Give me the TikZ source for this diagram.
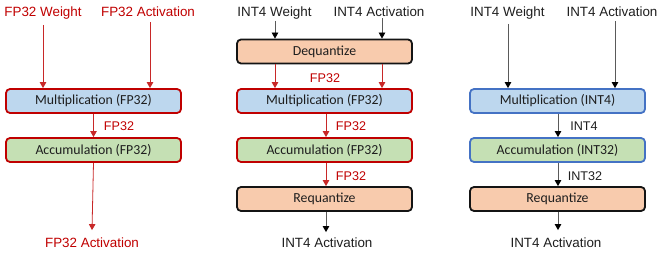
\documentclass[tikz,border=0pt]{standalone}
\usepackage{fontspec}
\setmainfont{Liberation Sans}
\newfontfamily\boxfont{Carlito}
\usetikzlibrary{arrows.meta}
\definecolor{myred}{RGB}{192,0,0}
\definecolor{arrred}{RGB}{200,40,40}
\definecolor{boxblue}{RGB}{189,215,238}
\definecolor{boxgreen}{RGB}{197,224,180}
\definecolor{boxorange}{RGB}{248,203,173}
\definecolor{edgeblue}{RGB}{68,114,196}
\definecolor{edgedark}{RGB}{20,20,20}
\definecolor{arrgray}{RGB}{90,90,90}
\definecolor{txt}{RGB}{30,30,30}
\begin{document}
\begin{tikzpicture}[x=1pt,y=-1pt,
  box/.style={rectangle, rounded corners=4pt, line width=1.8pt,
    minimum width=175pt, minimum height=24pt, inner sep=0pt, text=txt,
    font=\boxfont\fontsize{13.8}{16}\selectfont},
  redblue/.style={box, draw=myred, fill=boxblue},
  redgreen/.style={box, draw=myred, fill=boxgreen},
  blueblue/.style={box, draw=edgeblue, fill=boxblue},
  bluegreen/.style={box, draw=edgeblue, fill=boxgreen},
  darkorange/.style={box, draw=edgedark, fill=boxorange},
  lab/.style={anchor=base, inner sep=1pt, font=\fontsize{13.4}{16}\selectfont},
  redlab/.style={lab, text=myred},
  blklab/.style={lab, text=txt},
  mid/.style={anchor=base, inner sep=0pt, font=\fontsize{12.6}{15}\selectfont},
  redmid/.style={mid, text=myred},
  blkmid/.style={mid, text=txt},
  redarr/.style={draw=arrred, line width=0.8pt, -{Triangle[width=6.5pt,length=6pt]}},
  grayarr/.style={draw=arrgray, line width=0.8pt, -{Triangle[width=6.5pt,length=6pt,color=black]}}
]
\useasboundingbox (0,0) rectangle (662,254);

% ---------- Panel 1 ----------
\node[redlab] (w1) at (43,17) {FP32 Weight};
\node[redlab] (a1) at (148,17) {FP32 Activation};
\node[redblue] (m1) at (93.5,101) {Multiplication (FP32)};
\node[redgreen] (c1) at (93.5,150) {Accumulation (FP32)};
\node[redmid] (l1) at (119,131) {FP32};
\node[redlab] (o1) at (92,247) {FP32 Activation};
\draw[redarr] ([yshift=-4pt]w1.south) -- (w1.south |- m1.north);
\draw[redarr] ([xshift=2pt,yshift=-4pt]a1.south) -- ([xshift=2pt]a1.south |- m1.north);
\draw[redarr] (m1.south) -- (c1.north);
\draw[redarr] (c1.south) -- ([yshift=6pt]o1.north);

% ---------- Panel 2 ----------
\node[blklab] (w2) at (274.5,17) {INT4 Weight};
\node[blklab] (a2) at (379,17) {INT4 Activation};
\node[darkorange] (d2) at (324.5,51.5) {Dequantize};
\node[redblue] (m2) at (324.5,101) {Multiplication (FP32)};
\node[redgreen] (c2) at (324.5,150) {Accumulation (FP32)};
\node[darkorange] (r2) at (324.5,199) {Requantize};
\node[redmid] (l2a) at (325,83) {FP32};
\node[redmid] (l2b) at (351,131) {FP32};
\node[redmid] (l2c) at (351,180) {FP32};
\node[blklab] (o2) at (327,247) {INT4 Activation};
\draw[grayarr] ([xshift=0.5pt]w2.south) -- ([xshift=0.5pt]w2.south |- d2.north);
\draw[grayarr] ([xshift=3pt]a2.south) -- ([xshift=3pt]a2.south |- d2.north);
\draw[redarr] ([xshift=0.5pt]w2.south |- d2.south) -- ([xshift=0.5pt]w2.south |- m2.north);
\draw[redarr] ([xshift=3pt]a2.south |- d2.south) -- ([xshift=3pt]a2.south |- m2.north);
\draw[redarr] ([xshift=1.5pt]m2.south) -- ([xshift=1.5pt]c2.north);
\draw[redarr] ([xshift=1.5pt]c2.south) -- ([xshift=1.5pt]r2.north);
\draw[grayarr] ([xshift=1.5pt]r2.south) -- ([xshift=1.5pt,yshift=4pt]r2.south |- o2.north);

% ---------- Panel 3 ----------
\node[blklab] (w3) at (507.5,17) {INT4 Weight};
\node[blklab] (a3) at (612,17) {INT4 Activation};
\node[blueblue] (m3) at (557.5,101) {Multiplication (INT4)};
\node[bluegreen] (c3) at (557.5,150) {Accumulation (INT32)};
\node[darkorange] (r3) at (557.5,199) {Requantize};
\node[blkmid] (l3a) at (584,131) {INT4};
\node[blkmid] (l3b) at (585,180) {INT32};
\node[blklab] (o3) at (556,247) {INT4 Activation};
\draw[grayarr] ([xshift=0.5pt,yshift=-3pt]w3.south) -- ([xshift=0.5pt]w3.south |- m3.north);
\draw[grayarr] ([xshift=3pt,yshift=-3pt]a3.south) -- ([xshift=3pt]a3.south |- m3.north);
\draw[grayarr] ([xshift=0.5pt]m3.south) -- ([xshift=0.5pt]c3.north);
\draw[grayarr] ([xshift=0.5pt]c3.south) -- ([xshift=0.5pt]r3.north);
\draw[grayarr] ([xshift=0.5pt]r3.south) -- ([xshift=0.5pt,yshift=6pt]r3.south |- o3.north);
\end{tikzpicture}
\end{document}
